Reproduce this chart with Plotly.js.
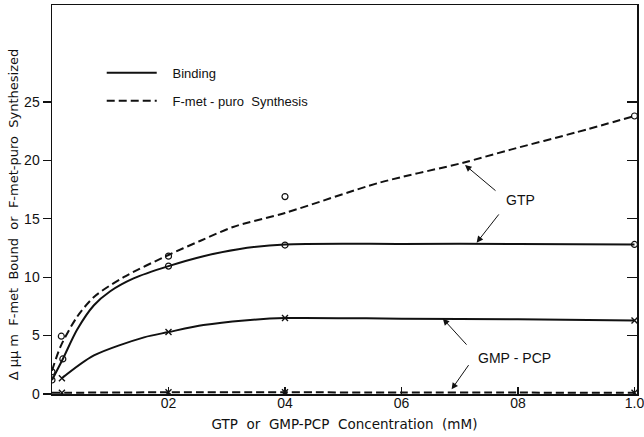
<!DOCTYPE html>
<html>
<head>
<meta charset="utf-8">
<script src="https://cdn.plot.ly/plotly-3.0.1.min.js"></script>
<style>html,body{margin:0;padding:0;background:#fff;}#chart{width:644px;height:437px;}</style>
</head>
<body>
<div id="chart"></div>
<script>
// Smooth curves
const gtpBindCurveX = [0, 0.0186, 0.043, 0.072, 0.1, 0.14, 0.2, 0.26, 0.32, 0.4, 0.6, 0.8, 1.0];
const gtpBindCurveY = [1.2, 3.0, 5.5, 7.6, 8.8, 9.9, 10.95, 11.8, 12.4, 12.8, 12.85, 12.85, 12.8];
const gtpPuroCurveX = [0, 0.015, 0.043, 0.072, 0.123, 0.2, 0.254, 0.311, 0.4, 0.563, 0.706, 0.786, 0.9, 1.0];
const gtpPuroCurveY = [2.0, 4.1, 6.6, 8.3, 10.0, 11.9, 13.1, 14.3, 15.5, 18.1, 19.8, 20.9, 22.4, 23.8];
const gmpBindCurveX = [0.017, 0.072, 0.158, 0.2, 0.26, 0.33, 0.4, 0.6, 0.8, 1.0];
const gmpBindCurveY = [1.35, 3.3, 4.85, 5.3, 5.9, 6.3, 6.5, 6.45, 6.4, 6.3];
const gmpPuroCurveX = [0, 0.2, 0.4, 0.6, 0.8, 1.0];
const gmpPuroCurveY = [0.1, 0.15, 0.15, 0.12, 0.12, 0.1];

// Measured points
const gtpBindPtsX = [0, 0.0186, 0.2, 0.4, 1.0];
const gtpBindPtsY = [1.2, 3.0, 10.95, 12.75, 12.8];
const gtpPuroPtsX = [0, 0.016, 0.2, 0.4, 1.0];
const gtpPuroPtsY = [1.9, 4.95, 11.8, 16.9, 23.8];
const gmpBindPtsX = [0.017, 0.2, 0.4, 1.0];
const gmpBindPtsY = [1.35, 5.3, 6.5, 6.3];
const gmpPuroPtsX = [0.017, 0.2, 0.4, 1.0];
const gmpPuroPtsY = [0.1, 0.15, 0.15, 0.1];

// Tick labels
const xTickVals = [0.2, 0.4, 0.6, 0.8, 1.0];
const xTickText = ['02', '04', '06', '08', '1.0'];
const yTickVals = [0, 5, 10, 15, 20, 25];
const yTickText = ['0', '5', '10', '15', '20', '25'];

const FONT = 'Liberation Sans, Arial, sans-serif';
const TFONT = 'DejaVu Sans, sans-serif';
const NB = '\u00a0';
const solid = {color: '#111', width: 2, shape: 'spline', smoothing: 0.8};
const dashed = {color: '#111', width: 2, shape: 'spline', smoothing: 0.8, dash: '8px,4px'};
const circ = {symbol: 'circle-open', size: 6, color: '#111', line: {width: 1.2, color: '#111'}};
const cross = {symbol: 'x-thin-open', size: 6, color: '#111', line: {width: 1.4, color: '#111'}};

const traces = [
  {x: gtpBindCurveX, y: gtpBindCurveY, mode: 'lines', line: solid, name: NB + NB + NB + 'Binding', legendgroup: 'a', showlegend: true, hoverinfo: 'skip'},
  {x: gtpPuroCurveX, y: gtpPuroCurveY, mode: 'lines', line: dashed, name: NB + NB + NB + 'F-met' + NB + '-' + NB + 'puro' + NB + NB + 'Synthesis', legendgroup: 'b', showlegend: true, hoverinfo: 'skip'},
  {x: gmpBindCurveX, y: gmpBindCurveY, mode: 'lines', line: solid, showlegend: false, hoverinfo: 'skip'},
  {x: gmpPuroCurveX, y: gmpPuroCurveY, mode: 'lines', line: dashed, showlegend: false, hoverinfo: 'skip'},
  {x: gtpBindPtsX, y: gtpBindPtsY, mode: 'markers', marker: circ, showlegend: false},
  {x: gtpPuroPtsX, y: gtpPuroPtsY, mode: 'markers', marker: circ, showlegend: false},
  {x: gmpBindPtsX, y: gmpBindPtsY, mode: 'markers', marker: cross, showlegend: false, yaxis: 'y2'},
  {x: gmpPuroPtsX, y: gmpPuroPtsY, mode: 'markers', marker: cross, showlegend: false}
];

const arrow = {showarrow: true, arrowhead: 2, arrowsize: 1.3, arrowwidth: 1, arrowcolor: '#111', axref: 'x', ayref: 'y', text: '', standoff: 0, startstandoff: 0};
const annotations = [
  {x: 0.805, y: 16.6, text: 'GTP', showarrow: false, font: {family: FONT, size: 14, color: '#111'}},
  {x: 0.794, y: 3.1, text: 'GMP' + NB + '-' + NB + 'PCP', showarrow: false, font: {family: FONT, size: 14, color: '#111'}},
  Object.assign({}, arrow, {x: 0.709, y: 19.6, ax: 0.764, ay: 17.3}),
  Object.assign({}, arrow, {x: 0.729, y: 12.95, ax: 0.769, ay: 15.5}),
  Object.assign({}, arrow, {x: 0.671, y: 6.45, ax: 0.714, ay: 4.1}),
  Object.assign({}, arrow, {x: 0.686, y: 0.4, ax: 0.717, ay: 2.6})
];

const layout = {
  width: 644, height: 437,
  margin: {l: 52, r: 7, t: 5, b: 43},
  paper_bgcolor: '#fff', plot_bgcolor: '#fff',
  font: {family: FONT, color: '#111', size: 13},
  showlegend: true,
  legend: {x: 0.085, y: 0.864, xanchor: 'left', yanchor: 'top', bgcolor: 'rgba(0,0,0,0)', font: {family: FONT, size: 13}, tracegroupgap: 8, traceorder: 'grouped', itemwidth: 50},
  xaxis: {
    range: [0, 1.0043], tickmode: 'array', tickvals: xTickVals, ticktext: xTickText,
    ticks: 'inside', ticklen: 7, tickwidth: 1.2, tickcolor: '#111', ticklabelstandoff: -4, ticklabeloverflow: 'allow',
    showline: true, linecolor: '#111', linewidth: 1.5, mirror: true,
    showgrid: false, zeroline: false, tickfont: {family: FONT, size: 14},
    title: {text: NB + NB + 'GTP' + NB + ' or' + NB + ' GMP-PCP' + NB + ' Concentration' + NB + ' (mM)', font: {family: TFONT, size: 13.5}, standoff: 9}
  },
  yaxis: {
    range: [0, 33.3], tickmode: 'array', tickvals: yTickVals, ticktext: yTickText,
    ticks: 'outside', ticklen: 8, tickwidth: 1.2, tickcolor: '#111',
    showline: true, linecolor: '#111', linewidth: 1.5, mirror: true,
    showgrid: false, zeroline: false, tickfont: {family: FONT, size: 14},
    title: {text: '\u0394' + NB + '\u03bc\u03bc' + NB + 'm' + NB + NB + 'F-met' + NB + NB + 'Bound' + NB + NB + 'or' + NB + NB + 'F-met-puro' + NB + NB + 'Synthesized' + '\u2003\u2003' + '<span style="opacity:0">.</span>', font: {family: TFONT, size: 13}, standoff: 2}
  },
  yaxis2: {
    range: [0, 33.3], overlaying: 'y', side: 'right', tickmode: 'array', tickvals: [5, 10, 15, 20, 25],
    ticks: 'inside', ticklen: 10, tickwidth: 1.2, tickcolor: '#111', showticklabels: false,
    showline: false, showgrid: false, zeroline: false
  },
  annotations: annotations
};

Plotly.newPlot('chart', traces, layout, {displayModeBar: false, staticPlot: true});
</script>
</body>
</html>
